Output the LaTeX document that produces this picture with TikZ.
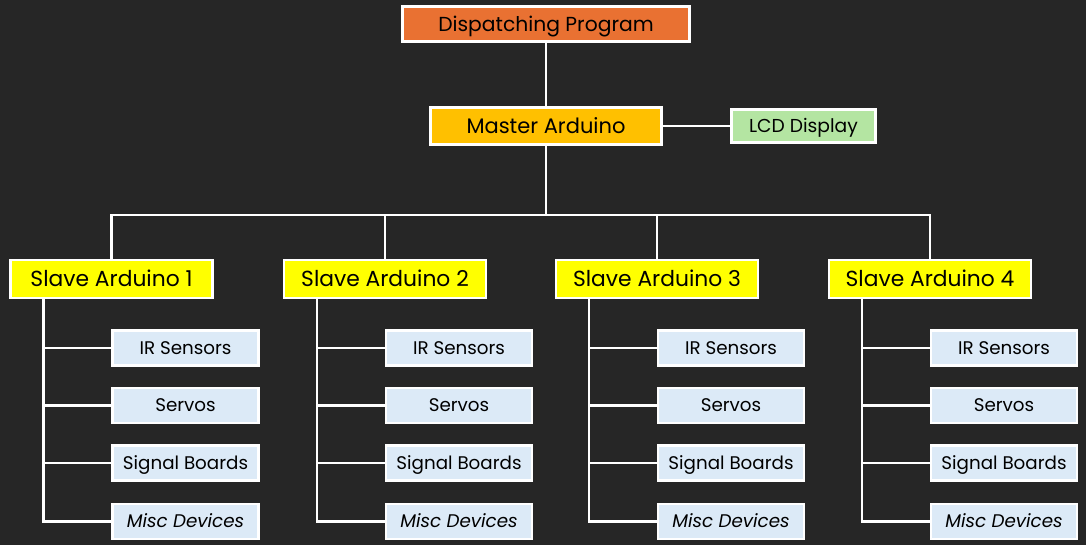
\documentclass[tikz,border=0pt]{standalone}
\usepackage{fontspec}
\setmainfont{Poppins}
\definecolor{bg}{HTML}{262626}
\definecolor{orangebox}{HTML}{E97132}
\definecolor{goldbox}{HTML}{FFC000}
\definecolor{greenbox}{HTML}{B4E5A2}
\definecolor{yellowbox}{HTML}{FFFF00}
\definecolor{bluebox}{HTML}{DCEAF7}
\begin{document}
\begin{tikzpicture}[x=1pt,y=-1pt,
  box/.style={draw=white,line width=2.8pt,inner sep=0pt,text=black,text depth=0pt},
  topbox/.style={box,fill=orangebox,minimum width=287pt,minimum height=35pt,font=\fontsize{20.3}{20.3}\selectfont,text height=14.2pt},
  masterbox/.style={box,fill=goldbox,minimum width=231pt,minimum height=37pt,font=\fontsize{21}{21}\selectfont,text height=14.7pt},
  lcdbox/.style={box,fill=greenbox,minimum width=144pt,minimum height=33pt,font=\fontsize{18.7}{18.7}\selectfont,text height=13.1pt},
  slavebox/.style={box,fill=yellowbox,minimum width=202pt,minimum height=38pt,font=\fontsize{21.8}{21.8}\selectfont,text height=15.3pt},
  devbox/.style={box,fill=bluebox,minimum width=146pt,minimum height=35pt,font=\fontsize{18.3}{18.3}\selectfont,text height=12.8pt},
  wire/.style={draw=white,line width=2.8pt}]
\fill[bg] (0,0) rectangle (1086,545);
\useasboundingbox (0,0) rectangle (1086,545);
\node[topbox] (dp) at (546,24) {Dispatching Program};
\node[masterbox] (ma) at (546,126) {Master Arduino};
\node[lcdbox] (lcd) at (803.5,126) {LCD Display};
\coordinate (bus) at (546,215);
\draw[wire] (dp) -- (ma);
\draw[wire] (ma) -- (lcd);
\foreach \i/\cx in {1/111.5,2/385,3/657,4/930}{
  \node[slavebox] (s\i) at (\cx,279) {Slave Arduino \i};
  \node[devbox] (ir\i) at (\cx+74,348) {IR Sensors};
  \node[devbox] (sv\i) at (\cx+74,405.5) {Servos};
  \node[devbox] (sb\i) at (\cx+74,463) {Signal Boards};
  \node[devbox] (md\i) at (\cx+74,521.5) {\itshape Misc Devices};
  \coordinate (t\i) at (\cx-68,279);
  \draw[wire] (s\i.south -| t\i) |- (md\i.west);
  \draw[wire] (ir\i.west -| t\i) -- (ir\i.west);
  \draw[wire] (sv\i.west -| t\i) -- (sv\i.west);
  \draw[wire] (sb\i.west -| t\i) -- (sb\i.west);
}
\draw[wire] (ma.south) -- (bus);
\draw[wire,line join=miter] (s1.north) |- (bus) -| (s4.north);
\draw[wire] (s2.north) -- (s2.north |- bus);
\draw[wire] (s3.north) -- (s3.north |- bus);
\end{tikzpicture}
\end{document}
